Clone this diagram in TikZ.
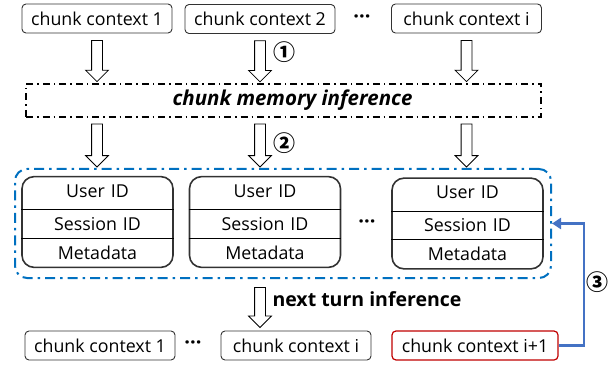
\documentclass[tikz,border=0pt]{standalone}
\usepackage{fontspec}
\setmainfont{Open Sans}
\newfontfamily\cjk{Noto Sans CJK SC}
\usetikzlibrary{shapes.multipart,shapes.arrows,arrows.meta}

\definecolor{groupblue}{RGB}{0,112,192}
\definecolor{linkblue}{RGB}{68,114,196}
\definecolor{newred}{RGB}{192,0,0}
\definecolor{boxgray}{RGB}{50,50,50}

\tikzset{
  ctx/.style={draw=boxgray, rounded corners=4pt, line width=0.9pt,
    minimum width=150pt, minimum height=29pt, inner sep=0pt},
  record/.style={rectangle split, rectangle split parts=3,
    rectangle split draw splits=false, draw=boxgray, line width=1.6pt,
    rounded corners=12pt, text width=143pt, align=center,
    inner xsep=4pt, inner ysep=7pt, text height=13pt, text depth=4pt},
  hollow/.style={single arrow, draw=black, fill=white, line width=0.8pt,
    rotate=-90, single arrow head extend=6pt,
    inner xsep=0pt, inner ysep=5pt},
  circnum/.style={font=\cjk\bfseries\fontsize{22}{22}\selectfont, inner sep=0pt},
  dots/.style={font=\bfseries\fontsize{20}{20}\selectfont, inner sep=0pt},
  feedback/.style={draw=linkblue, line width=2.2pt,
    -{Triangle[length=9pt,width=11pt]}},
}

\begin{document}
\begin{tikzpicture}[x=1pt, y=-1pt, font=\fontsize{17.8}{22}\selectfont]
    \useasboundingbox (0,0) rectangle (613,366);

    % --- 参数 ---
    \def\rowY{222}    % 记录行的中心
    \def\botY{345.5}  % 最下一行的中心

    % --- 上一行: chunk contexts ---
    \node[ctx] (c1) at (97,18.5) {chunk context 1};
    \node[ctx] (c2) at (260,19) {chunk context 2};
    \node[ctx] (c3) at (466.5,18.5) {chunk context i};
    \node[dots] (d1) at (362,19) {···};

    % --- chunk memory inference ---
    \node[draw=black, line width=1.3pt, dash pattern=on 7pt off 4pt on 1.5pt off 4pt,
      minimum width=515pt, minimum height=33pt,
      font=\fontsize{20.5}{22}\selectfont\bfseries\itshape] (mem) at (283.5,100.5)
      {\hspace*{18pt}chunk memory inference};

    % --- 记录 (User ID / Session ID / Metadata) ---
    \node[draw=groupblue, line width=2pt, rounded corners=12pt,
      dash pattern=on 10pt off 5pt on 2.5pt off 5pt,
      minimum width=536pt, minimum height=109pt] (grp) at (283,223.5) {};
    \node[record] (r1) at (97.5,\rowY) {User ID\nodepart{two}Session ID\nodepart{three}Metadata};
    \node[record] (r2) at (265,\rowY) {User ID\nodepart{two}Session ID\nodepart{three}Metadata};
    \node[record] (r3) at (467.5,\rowY+1.5) {User ID\nodepart{two}Session ID\nodepart{three}Metadata};
    \foreach \n in {1,2,3} {
      \draw[thin] (r\n.text split west) -- (r\n.text split east);
      \draw[thin] (r\n.two split west) -- (r\n.two split east);
    }
    \node[dots] (d2) at (367,224) {···};

    % --- 空心箭头 ---
    \foreach \n in {1,2,3} {
      \path (c\n.south) -- (c\n.south |- mem.north)
        node[midway, hollow, minimum height=41pt] (a\n) {};
      \path (mem.south -| c\n) -- (grp.north -| c\n)
        node[midway, hollow, minimum height=43pt] (b\n) {};
    }
    \node[circnum] (n1) at (284,52) {①};
    \node[circnum] (n2) at (284,143) {②};

    % --- 下一轮 ---
    \node[ctx] (e1) at (100,\botY) {chunk context 1};
    \node[dots] (d3) at (193,\botY) {···};
    \node[ctx] (e2) at (296,\botY) {chunk context i};
    \node[ctx, draw=newred, line width=1.2pt, minimum width=166pt] (e3) at (475,\botY) {chunk context i+1};
    \path (grp.south -| c2) -- (e2.north -| c2)
      node[midway, hollow, minimum height=40pt] (a4) {};
    \node[anchor=west, font=\fontsize{19.5}{22}\selectfont\bfseries] (nt) at (269,299) {next turn inference};

    % --- 反馈 ---
    \draw[feedback] (e3.east) -- ++(25,0) |- (grp.east);
    \node[circnum] (n3) at (597,282) {③};

\end{tikzpicture}
\end{document}
